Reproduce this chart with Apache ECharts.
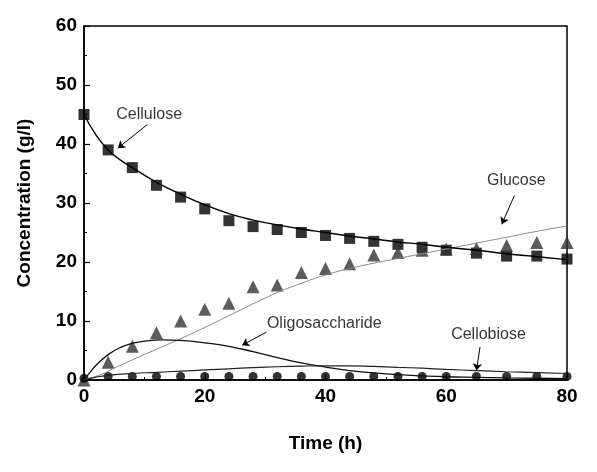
<html lang="en">
<head>
    <meta charset="UTF-8">
    <title>hydrolysis</title>
    <script src="https://cdn.jsdelivr.net/npm/echarts@6/dist/echarts.min.js"></script>
</head>
<body style="margin:0;background:#fff;">
    <div id="main" style="width:597px;height:472px;"></div>
    <script type="text/javascript">
        // measured points (h, g/l)
        var times = [0, 4, 8, 12, 16, 20, 24, 28, 32, 36, 40, 44, 48, 52, 56, 60, 65, 70, 75, 80];
        var cellulose = [45, 39, 36, 33, 31, 29, 27, 26, 25.5, 25, 24.5, 24, 23.5, 23, 22.5, 22, 21.5, 21, 21, 20.5];
        var glucose = [0, 3, 5.7, 8, 10, 12, 13, 15.8, 16.1, 18.2, 18.9, 19.7, 21.2, 21.6, 22, 22.2, 22.3, 22.8, 23.3, 23.3];
        var cellobiose = [0.3, 0.6, 0.6, 0.6, 0.6, 0.6, 0.6, 0.6, 0.6, 0.6, 0.6, 0.6, 0.6, 0.6, 0.6, 0.6, 0.6, 0.6, 0.6, 0.6];

        // model curves
        var fitCellulose = [[0, 45], [2, 41.5], [4, 39], [6, 37.3], [8, 36], [12, 33.5], [16, 31.5], [20, 29.7], [24, 28.2], [28, 27.1], [32, 26.3], [36, 25.6], [40, 25], [44, 24.4], [48, 23.9], [52, 23.4], [56, 23], [60, 22.5], [65, 22], [70, 21.4], [75, 20.9], [80, 20.4]];
        var fitGlucose = [[0, 0], [3, 1], [5, 2], [8, 3.4], [12, 5.2], [16, 7], [20, 8.9], [24, 10.9], [28, 12.9], [32, 14.8], [36, 16.4], [40, 17.8], [44, 18.9], [48, 19.8], [52, 20.6], [56, 21.4], [60, 22.2], [65, 23.2], [70, 24.2], [75, 25.2], [80, 26.1]];
        var fitOligo = [[0, 0], [1, 1.3], [2, 2.5], [4, 4.3], [6, 5.5], [8, 6.2], [10, 6.6], [13, 6.8], [16, 6.7], [20, 6.3], [24, 5.7], [28, 4.8], [32, 3.8], [36, 2.9], [40, 2.2], [44, 1.6], [48, 1.2], [52, 0.9], [56, 0.7], [60, 0.55], [65, 0.45], [70, 0.35], [75, 0.3], [80, 0.25]];
        var fitCellobiose = [[0, 0], [2, 0.5], [4, 0.8], [8, 1.1], [12, 1.3], [16, 1.5], [20, 1.7], [24, 1.9], [28, 2.1], [32, 2.25], [36, 2.35], [40, 2.4], [44, 2.4], [48, 2.3], [52, 2.15], [56, 2], [60, 1.8], [65, 1.6], [70, 1.4], [75, 1.25], [80, 1.1]];

        // annotations (data coords)
        var noteLabels = ['Cellulose', 'Glucose', 'Oligosaccharide', 'Cellobiose'];
        var noteTextPos = [[10.8, 45], [71.6, 33.8], [39.8, 9.5], [67, 7.7]];
        var noteArrowFrom = [[10.5, 43.3], [71.3, 31.3], [30.2, 8.1], [65.6, 5.6]];
        var noteArrowTo = [[5.6, 39.3], [69.2, 26.4], [26.2, 5.9], [65.0, 1.6]];

        var xTicks = [0, 20, 40, 60, 80];
        var yTicks = [0, 10, 20, 30, 40, 50, 60];

        function zip(xs, ys) {
            var out = [];
            for (var i = 0; i < xs.length; i++) out.push([xs[i], ys[i]]);
            return out;
        }

        var chart = echarts.init(document.getElementById('main'));
        var axisFont = { fontFamily: 'Liberation Sans, Arial, sans-serif', fontWeight: 'bold', fontSize: 19, color: '#000' };

        var option = {
            animation: false,
            backgroundColor: '#fff',
            grid: { left: 84, right: 30, top: 26, bottom: 92, show: true, borderColor: '#000', borderWidth: 1.5 },
            xAxis: {
                type: 'value', min: 0, max: 80, interval: 20,
                name: 'Time (h)', nameLocation: 'middle', nameGap: 54,
                nameTextStyle: axisFont,
                axisLine: { lineStyle: { color: '#000', width: 1.5 } },
                axisTick: { inside: true, length: 6, lineStyle: { color: '#000', width: 1.2 } },
                minorTick: { show: true, splitNumber: 2, length: 3, lineStyle: { color: '#000' } },
                axisLabel: Object.assign({ margin: 7, formatter: function (v) { return xTicks.indexOf(v) >= 0 ? v : ''; } }, axisFont),
                splitLine: { show: false }
            },
            yAxis: {
                type: 'value', min: 0, max: 60, interval: 10,
                name: 'Concentration (g/l)', nameLocation: 'middle', nameGap: 50,
                nameTextStyle: axisFont,
                axisLine: { lineStyle: { color: '#000', width: 1.5 } },
                axisTick: { inside: true, length: 6, lineStyle: { color: '#000', width: 1.2 } },
                minorTick: { show: true, splitNumber: 2, length: 3, lineStyle: { color: '#000' } },
                axisLabel: Object.assign({ margin: 7, formatter: function (v) { return yTicks.indexOf(v) >= 0 ? v : ''; } }, axisFont),
                splitLine: { show: false }
            },
            series: [
                { name: 'fitGlucose', type: 'line', data: fitGlucose, smooth: true, showSymbol: false, lineStyle: { color: '#888', width: 1 } },
                { name: 'fitCellulose', type: 'line', data: fitCellulose, smooth: true, showSymbol: false, lineStyle: { color: '#000', width: 1.4 } },
                { name: 'fitOligo', type: 'line', data: fitOligo, smooth: true, showSymbol: false, lineStyle: { color: '#111', width: 1.3 } },
                { name: 'fitCellobiose', type: 'line', data: fitCellobiose, smooth: true, showSymbol: false, lineStyle: { color: '#222', width: 1.2 } },
                { name: 'Cellulose', type: 'scatter', data: zip(times, cellulose), symbol: 'rect', symbolSize: 11, itemStyle: { color: '#000' } },
                { name: 'Glucose', type: 'scatter', data: zip(times, glucose), symbol: 'triangle', symbolSize: 13, itemStyle: { color: '#333' } },
                { name: 'Cellobiose', type: 'scatter', data: zip(times, cellobiose), symbol: 'circle', symbolSize: 9, itemStyle: { color: '#000' } },
                {
                    name: 'notes', type: 'scatter', symbolSize: 0, silent: true,
                    data: noteTextPos.map(function (p, i) { return { value: p, name: noteLabels[i] }; }),
                    label: { show: true, position: 'inside', formatter: '{b}', color: '#000', fontSize: 16, fontFamily: 'Liberation Sans, Arial, sans-serif' },
                    markLine: {
                        silent: true, symbol: ['none', 'arrow'], symbolSize: 7,
                        lineStyle: { color: '#000', width: 1, type: 'solid' },
                        label: { show: false },
                        data: noteArrowFrom.map(function (p, i) { return [{ coord: p }, { coord: noteArrowTo[i] }]; })
                    }
                }
            ]
        };
        chart.setOption(option);
    </script>
</body>
</html>
